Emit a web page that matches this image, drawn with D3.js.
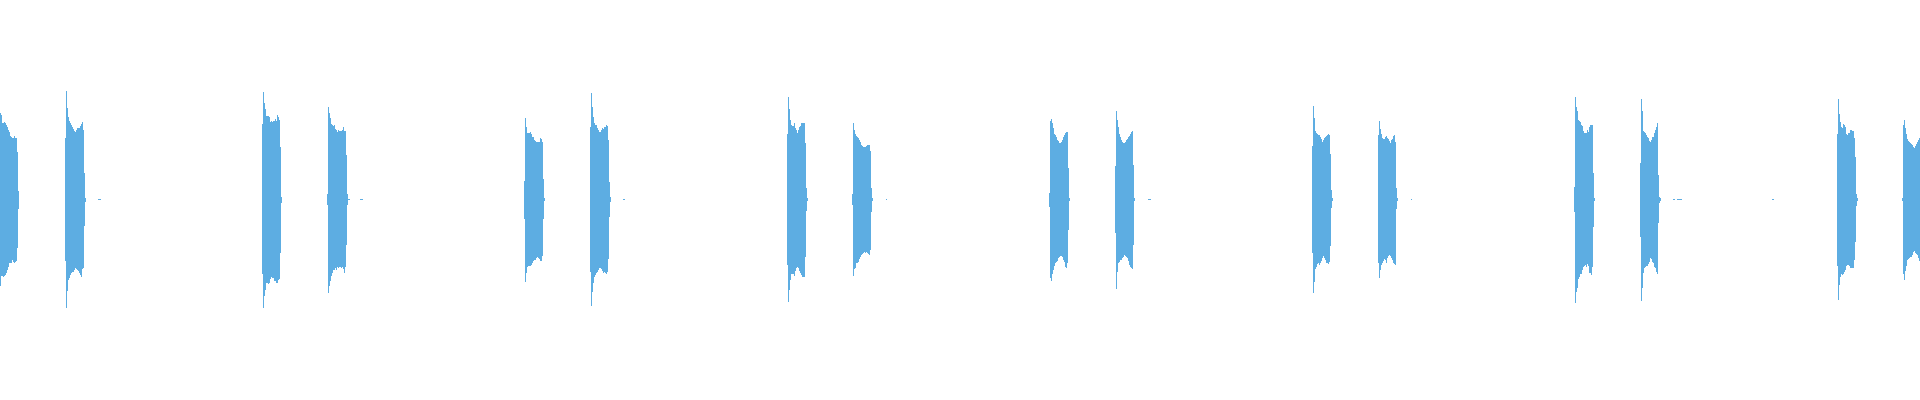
<!DOCTYPE html>
<html>
<head>
<meta charset="utf-8">
<script src="https://cdn.jsdelivr.net/npm/d3@7"></script>
<style>
html,body{margin:0;padding:0;background:#fff;overflow:hidden;}
svg{display:block;}
</style>
</head>
<body>
<svg id="chart" width="1920" height="400"></svg>
<script>
// Sample index (one column per sample bucket) where each burst begins
const burstStarts = [0, 65, 262, 327, 524, 590, 787, 852, 1049, 1115, 1312, 1378, 1574, 1640, 1837, 1902];

// Per-column max amplitude (positive envelope) for each burst
const burstTops = [
  [87,85,77,77,78,77,75,73,70,68,64,63,62,62,64,62,62,48,9],
  [62,109,92,83,79,77,75,73,71,69,68,70,72,72,72,74,76,78,70,27,2],
  [76,108,97,91,84,84,84,83,78,79,78,79,79,81,79,85,83,80,53,3],
  [6,93,87,82,76,75,74,75,71,70,68,70,69,69,69,70,73,69,69,45,6],
  [19,82,73,67,67,67,68,66,63,63,60,59,58,58,58,58,62,61,58,21,2],
  [73,107,93,83,77,75,75,72,70,68,68,70,72,71,73,73,75,74,60,18,3],
  [66,103,91,80,75,74,74,77,72,70,67,70,73,74,77,77,77,77,57,12,2],
  [6,77,70,66,64,63,62,60,58,55,54,53,53,53,54,55,55,55,49,12,2],
  [7,79,81,77,72,66,65,63,60,59,57,57,58,60,63,65,67,68,68,32,2],
  [34,89,80,73,66,63,60,58,57,57,58,60,61,63,64,66,68,69,35,2],
  [54,94,82,69,67,66,65,65,63,61,58,60,62,63,64,65,66,65,46,10,2],
  [65,79,71,66,62,61,61,63,64,62,61,59,57,60,61,64,65,58,12,2],
  [13,103,93,89,80,79,78,75,74,69,67,67,67,70,68,73,75,75,75,27,2],
  [37,101,89,69,68,67,65,63,62,59,58,60,63,63,67,70,73,77,25,3,2],
  [66,101,86,78,73,72,76,75,73,66,65,67,67,70,70,69,69,62,43,6,2],
  [2,75,80,72,66,61,59,58,57,56,55,53,52,54,56,58,60,62]
];

// Per-column min amplitude (negative envelope) for each burst
const burstBottoms = [
  [-86,-76,-76,-77,-76,-75,-73,-70,-67,-63,-63,-63,-60,-62,-63,-62,-61,-48,-9],
  [-61,-108,-91,-80,-78,-75,-73,-72,-72,-70,-68,-69,-70,-71,-73,-75,-77,-69,-68,-26,-2],
  [-74,-108,-96,-90,-83,-83,-84,-83,-79,-77,-78,-78,-81,-81,-83,-83,-80,-79,-53,-3],
  [-5,-93,-86,-81,-76,-73,-70,-70,-68,-70,-67,-68,-67,-67,-68,-67,-69,-73,-67,-45,-5],
  [-19,-82,-73,-67,-66,-66,-66,-65,-63,-61,-60,-60,-58,-57,-58,-59,-61,-61,-56,-19,-1],
  [-72,-106,-92,-83,-77,-75,-73,-72,-70,-68,-68,-69,-71,-73,-72,-73,-74,-72,-59,-17,-2],
  [-65,-102,-90,-80,-74,-74,-74,-76,-71,-68,-67,-68,-71,-73,-75,-77,-77,-77,-57,-11,-1],
  [-5,-76,-69,-68,-63,-63,-62,-59,-57,-55,-54,-53,-52,-53,-52,-53,-54,-55,-50,-12,-1],
  [-7,-78,-81,-74,-70,-66,-63,-62,-61,-58,-57,-56,-56,-57,-60,-62,-67,-68,-63,-30,-1],
  [-33,-89,-72,-63,-62,-60,-60,-58,-57,-55,-56,-57,-58,-61,-65,-67,-68,-69,-45,-1],
  [-53,-93,-82,-69,-67,-64,-63,-65,-63,-61,-58,-56,-58,-60,-63,-63,-64,-62,-46,-8,-1],
  [-63,-78,-70,-65,-63,-61,-59,-60,-63,-58,-56,-55,-56,-58,-60,-63,-64,-65,-9,-1],
  [-12,-103,-92,-88,-79,-77,-74,-74,-70,-67,-66,-65,-67,-64,-66,-73,-73,-75,-67,-27,-1],
  [-37,-101,-88,-73,-68,-67,-66,-66,-64,-62,-58,-59,-62,-63,-67,-68,-72,-74,-23,-3,-1],
  [-66,-100,-85,-77,-74,-75,-74,-72,-70,-66,-65,-65,-66,-68,-68,-68,-68,-60,-42,-6,-1],
  [-1,-74,-80,-71,-66,-60,-59,-58,-57,-57,-55,-52,-51,-53,-54,-55,-58,-61]
];

// Tiny near-silent blips between bursts
const blipStarts = [98, 348, 360, 623, 886, 1148, 1411, 1673, 1677, 1772];
const blipEnds   = [101, 350, 363, 625, 887, 1151, 1412, 1675, 1682, 1774];
const blipTop = 1, blipBottom = 0;

const W = 1920, H = 400;
const color = "#5DADE2";

const x = d3.scaleLinear().domain([0, 1920]).range([0, W]);
const y = d3.scaleLinear().domain([-200, 200]).range([H, 0]);

const cols = [];
burstStarts.forEach((s, b) => {
  burstTops[b].forEach((t, i) => {
    cols.push({ t0: s + i, t1: s + i + 1, hi: t, lo: burstBottoms[b][i] });
  });
});
blipStarts.forEach((s, i) => {
  cols.push({ t0: s, t1: blipEnds[i], hi: blipTop, lo: blipBottom });
});

const svg = d3.select("#chart");
svg.append("g")
  .attr("shape-rendering", "crispEdges")
  .selectAll("rect")
  .data(cols)
  .join("rect")
  .attr("x", d => x(d.t0))
  .attr("width", d => x(d.t1) - x(d.t0))
  .attr("y", d => y(d.hi))
  .attr("height", d => Math.max(1, y(d.lo) - y(d.hi)))
  .attr("fill", color);
</script>
</body>
</html>
